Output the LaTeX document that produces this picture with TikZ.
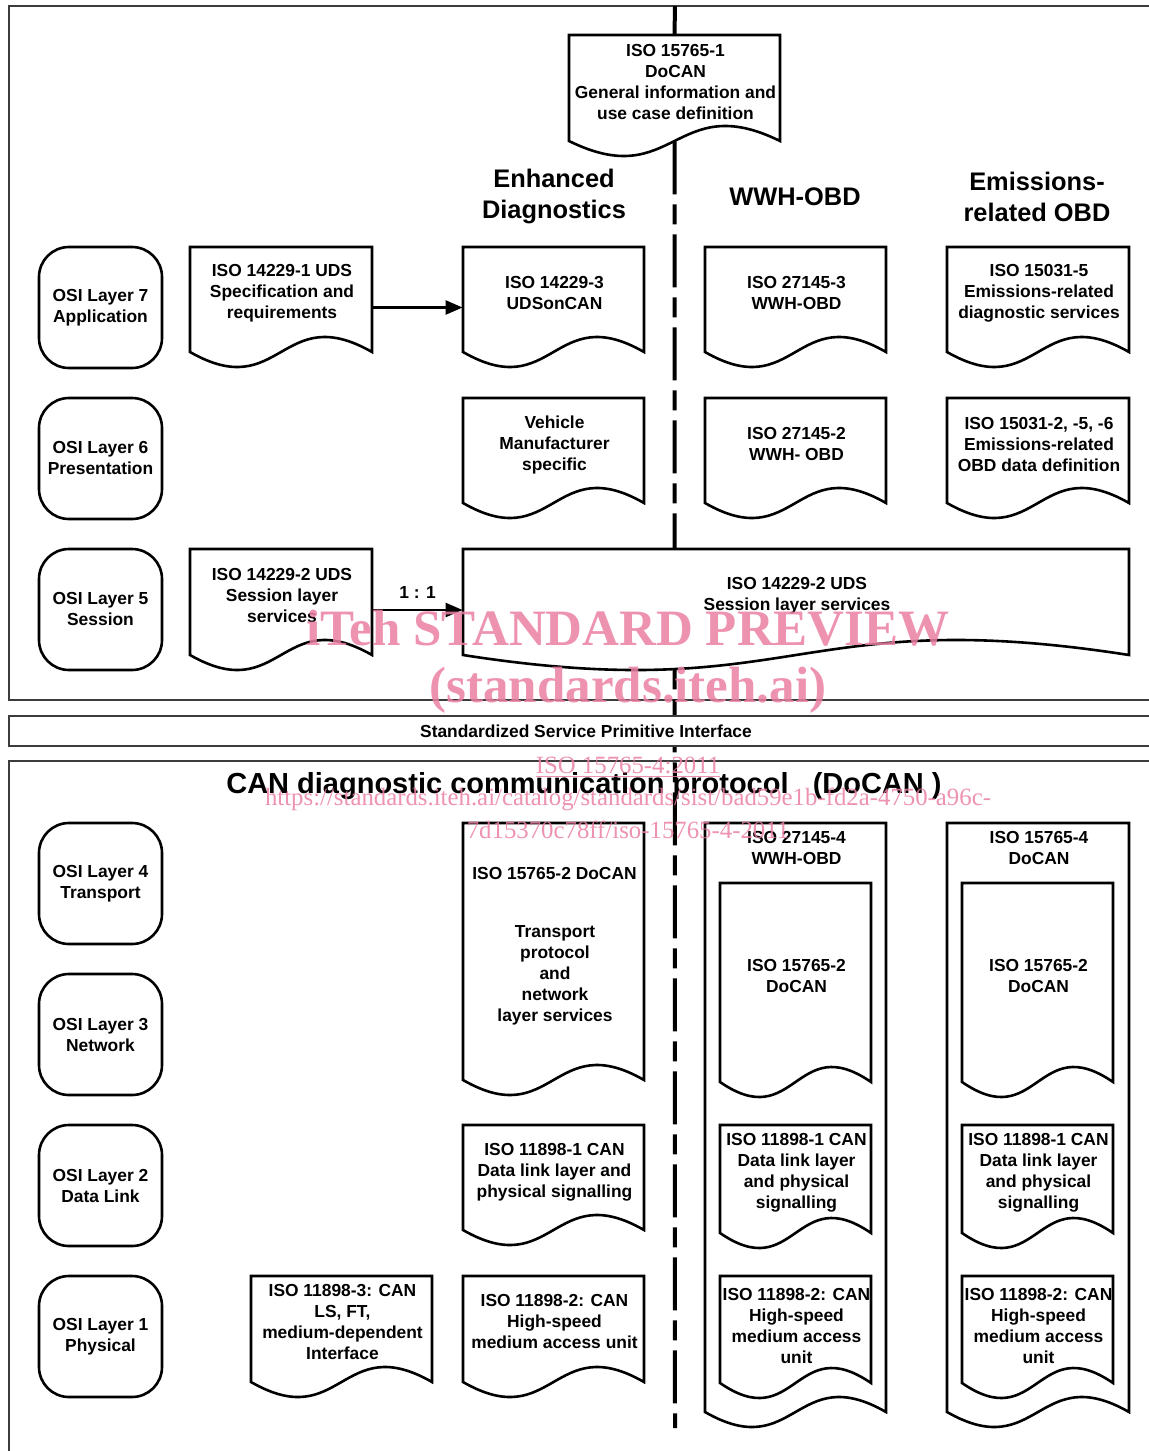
\documentclass[tikz,border=0pt]{standalone}
\usepackage{fontspec}
\setmainfont{Liberation Sans}
\newfontfamily\wmfont{Liberation Serif}
\usetikzlibrary{arrows.meta,fit,positioning}

\definecolor{framegray}{RGB}{60,60,60}
\definecolor{wmpink}{RGB}{235,128,162}

% document shape: name, x1, y1, x2, y2 (end of sides), text y, text
\newcommand{\docbox}[7]{%
  \draw[docline] (#2,#3) -- (#4,#3) -- (#4,#5)
    .. controls ({(#2+#4)/2},#5-52) and ({(#2+#4)/2},#5+52) .. (#2,#5) -- cycle;
  \node[fit={(#2,#3) (#4,#5)}, inner sep=0pt] (#1) {};
  \node[doctext] (#1-t) at ({(#2+#4)/2+1},#6+2) {#7};
}

\tikzset{
  frame/.style={draw=framegray, line width=0.7pt},
  docline/.style={draw=black, line width=1.3pt, fill=white},
  doctext/.style={font=\fontsize{8.7}{10.5}\selectfont\bfseries, align=center, inner sep=0pt},
  osibox/.style={draw, line width=1.3pt, rounded corners=15pt, fill=white,
    minimum width=61.5pt, minimum height=60.5pt, inner sep=0pt,
    font=\fontsize{8.7}{10.5}\selectfont\bfseries, align=center},
  heading/.style={font=\fontsize{12.7}{15.5}\selectfont\bfseries, align=center, inner sep=0pt},
  midline/.style={line width=2pt},
  middash/.style={line width=2pt, dash pattern=on 26.5pt off 5pt on 10pt off 5pt},
  arr/.style={-{Triangle[length=8.5pt,width=7pt]}, line width=1.2pt},
  wmark/.style={text=wmpink, text opacity=0.85, inner sep=0pt},
}

\begin{document}
\begin{tikzpicture}[x=0.5pt,y=-0.5pt]
  \useasboundingbox (0,0) rectangle (1148,1451);
  \fill[white] (0,0) rectangle (1148,1451);

  %%% frames
  \draw[frame] (1160,6) -- (9,6) -- (9,700) -- (1160,700);
  \draw[frame] (1160,761) -- (9,761) -- (9,1460);

  %%% middle line
  \coordinate (ctop) at (675,6);
  \coordinate (cbot) at (675,1428);

  \docbox{iso1}{569}{35}{780}{141}{80}{ISO 15765-1\\DoCAN\\General information and\\use case definition}
  \draw[midline] (ctop) -- (iso1.north);
  \draw[middash] (iso1.south) -- (cbot);

  \filldraw[frame, fill=white] (9,716) rectangle (1160,746);
  \node[doctext] (sspi) at (586,731) {Standardized Service Primitive Interface};

  %%% headings
  \node[heading] (hed) at (554,196) {Enhanced\\Diagnostics};
  \node[heading] (hwwh) at (795,197) {WWH-OBD};
  \node[heading] (hobd) at (1037,197) {Emissions-\\related OBD};
  \node[font=\fontsize{14.5}{17}\selectfont\bfseries, inner sep=0pt] (hcan) at (584,786)
    {CAN diagnostic communication protocol\ \ \ (DoCAN )};

  %%% OSI layers
  \node[osibox] (osi7) at (100.5,307.5) {OSI Layer 7\\Application};
  \node[osibox] (osi6) at (100.5,458.5) {OSI Layer 6\\Presentation};
  \node[osibox] (osi5) at (100.5,609.5) {OSI Layer 5\\Session};
  \node[osibox] (osi4) at (100.5,883.5) {OSI Layer 4\\Transport};
  \node[osibox] (osi3) at (100.5,1034.5) {OSI Layer 3\\Network};
  \node[osibox] (osi2) at (100.5,1185.5) {OSI Layer 2\\Data Link};
  \node[osibox] (osi1) at (100.5,1336.5) {OSI Layer 1\\Physical};

  %%% layers 7 - 5
  \docbox{uds1}{190}{247}{372}{352}{291}{ISO 14229-1 UDS\\Specification and\\requirements}
  \docbox{uds3}{463}{247}{644}{352}{291}{ISO 14229-3\\UDSonCAN}
  \docbox{wwh3}{705}{247}{886}{352}{291}{ISO 27145-3\\WWH-OBD}
  \docbox{obd5}{947}{247}{1129}{352}{291}{ISO 15031-5\\Emissions-related\\diagnostic services}

  \docbox{vms}{463}{398}{644}{503}{443}{Vehicle\\Manufacturer\\specific}
  \docbox{wwh2}{705}{398}{886}{503}{442}{ISO 27145-2\\WWH- OBD}
  \docbox{obd2}{947}{398}{1129}{503}{443}{ISO 15031-2, -5, -6\\Emissions-related\\OBD data definition}

  \docbox{uds2}{190}{549}{372}{655}{594}{ISO 14229-2 UDS\\Session layer\\services}
  \docbox{sess}{463}{549}{1129}{655}{594}{ISO 14229-2 UDS\\Session layer services}

  \draw[arr] ([yshift=-4pt]uds1.east) -- ([yshift=-4pt]uds3.west);
  \draw[arr] ([yshift=-4pt]uds2.east) -- ([yshift=-4pt]sess.west)
    node[midway, above=5pt, doctext] (ratio) {1 : 1};

  %%% layers 4 - 1
  \docbox{docan2}{463}{823}{644}{1080}{871}{ISO 15765-2 DoCAN}
  \node[doctext] (docan2-t2) at (555,975) {Transport\\protocol\\and\\network\\layer services};

  \docbox{wwh4}{705}{823}{886}{1412}{846}{ISO 27145-4\\WWH-OBD}
  \docbox{wdocan}{720}{883}{871}{1082}{974}{ISO 15765-2\\DoCAN}
  \docbox{wcan1}{720}{1125}{871}{1233}{1171}{ISO 11898-1 CAN\\Data link layer\\and physical\\signalling}
  \docbox{wcan2}{720}{1276}{871}{1383}{1324}{ISO 11898-2: CAN\\High-speed\\medium access\\unit}

  \docbox{edocan4}{947}{823}{1129}{1412}{846}{ISO 15765-4\\DoCAN}
  \docbox{edocan}{962}{883}{1113}{1082}{974}{ISO 15765-2\\DoCAN}
  \docbox{ecan1}{962}{1125}{1113}{1233}{1171}{ISO 11898-1 CAN\\Data link layer\\and physical\\signalling}
  \docbox{ecan2}{962}{1276}{1113}{1383}{1324}{ISO 11898-2: CAN\\High-speed\\medium access\\unit}

  \docbox{can1}{463}{1125}{644}{1230}{1170}{ISO 11898-1 CAN\\Data link layer and\\physical signalling}
  \docbox{can2}{463}{1276}{644}{1382}{1319}{ISO 11898-2: CAN\\High-speed\\medium access unit}
  \docbox{can3}{251}{1276}{432}{1382}{1320}{ISO 11898-3: CAN\\LS, FT,\\medium-dependent\\Interface}

  %%% watermark
  \node[wmark, font=\wmfont\fontsize{25.5}{30}\selectfont\bfseries] (wm1) at (628,628) {iTeh STANDARD PREVIEW};
  \node[wmark, font=\wmfont\fontsize{25.5}{30}\selectfont\bfseries] (wm2) at (628,690) {(standards.iteh.ai)};
  \node[wmark, font=\wmfont\fontsize{12.4}{14}\selectfont] (wm3) at (628,767) {\underline{ISO 15765-4:2011}};
  \node[wmark, font=\wmfont\fontsize{12.4}{14}\selectfont] (wm4) at (628,799) {https://standards.iteh.ai/catalog/standards/sist/bad59e1b-fd2a-4750-a96c-};
  \node[wmark, font=\wmfont\fontsize{12.4}{14}\selectfont] (wm5) at (628,830) {7d15370c78ff/iso-15765-4-2011};
\end{tikzpicture}
\end{document}
